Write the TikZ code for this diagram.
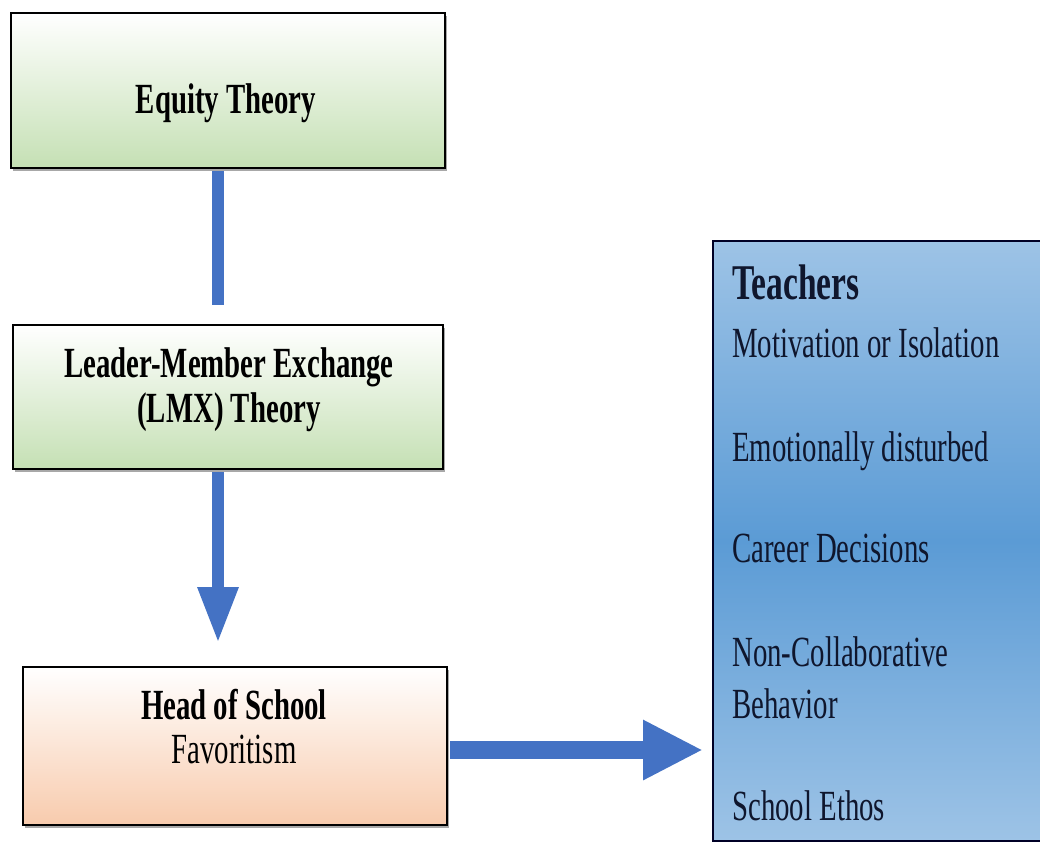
\documentclass[tikz,border=0pt]{standalone}
\usepackage{fontspec}
\setmainfont{Liberation Serif}[FakeStretch=0.67]
\usetikzlibrary{arrows.meta,shadows}

\definecolor{arrowblue}{RGB}{68,114,196}
\definecolor{greenbot}{RGB}{197,224,180}
\definecolor{peachbot}{RGB}{248,203,173}
\definecolor{bluelight}{RGB}{157,195,230}
\definecolor{bluemid}{RGB}{91,155,213}
\definecolor{inkblue}{RGB}{15,22,45}

\begin{document}
\begin{tikzpicture}[x=1pt,y=-1pt,
  box/.style={draw=black, line width=2pt, inner sep=0pt, anchor=north west,
    drop shadow={shadow xshift=1.5pt, shadow yshift=-3pt, opacity=0.45, fill=black!75}},
  greenbox/.style={box, top color=white, bottom color=greenbot},
  peachbox/.style={box, top color=white, bottom color=peachbot},
  bluebox/.style={draw=black!85!blue, line width=2pt, inner sep=0pt, anchor=north west,
    top color=bluelight, bottom color=bluelight, middle color=bluemid},
  lbl/.style={anchor=base, inner sep=0pt, text=black, font=\fontsize{43}{50}\selectfont},
  boldlbl/.style={lbl, font=\fontsize{43}{50}\selectfont\bfseries},
  item/.style={anchor=base west, inner sep=0pt, text=inkblue, font=\fontsize{43}{50}\selectfont},
  conn/.style={draw=arrowblue, line width=12pt},
]
% page
\path[use as bounding box, fill=white] (0,0) rectangle (1040,844);

% boxes
\node[greenbox, minimum width=434pt, minimum height=155pt] (eq) at (10,12) {};
\node[greenbox, minimum width=430pt, minimum height=144pt] (lmx) at (12,324) {};
\node[peachbox, minimum width=424pt, minimum height=158pt] (head) at (22,666) {};
\node[bluebox, minimum width=345pt, minimum height=600pt] (teach) at (712,240) {};

% box texts
\node[boldlbl] (eqtext) at (226,113) {Equity Theory};
\node[boldlbl] (lmxa) at (229,377) {Leader-Member Exchange};
\node[boldlbl] (lmxb) at (229,422) {(LMX) Theory};
\node[boldlbl] (heada) at (234,719) {Head of School};
\node[lbl] (headb) at (234,763) {Favoritism};

\node[item, font=\fontsize{50}{55}\selectfont\bfseries] (t0) at (732,299) {Teachers};
\node[item] (t1) at (732,357) {Motivation or Isolation};
\node[item] (t2) at (732,461) {Emotionally disturbed};
\node[item] (t3) at (732,562) {Career Decisions};
\node[item] (t4) at (732,666) {Non-Collaborative};
\node[item] (t5) at (732,718) {Behavior};
\node[item] (t6) at (732,820) {School Ethos};

% connectors
\coordinate (c1end) at (218,305);
\coordinate (c2end) at (218,643);
\coordinate (c3end) at (703,750);
\draw[conn] (eq.south -| c1end) ++(0,2) -- (c1end);
\draw[conn, -{Triangle[width=38pt,length=56pt]}] (lmx.south -| c2end) ++(0,2) -- (c2end);
\draw[conn, line width=18pt, -{Triangle[width=56pt,length=60pt]}] (head.east |- c3end) ++(2,0) -- (c3end);
\end{tikzpicture}
\end{document}
